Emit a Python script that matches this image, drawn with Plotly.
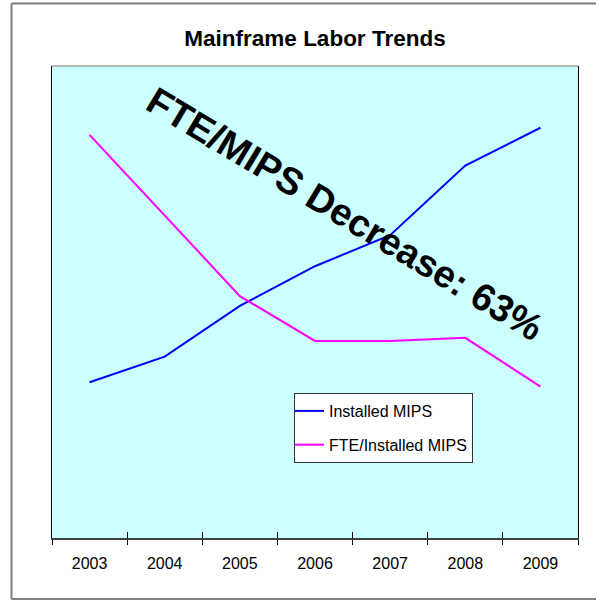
import plotly.graph_objects as go

years = ["2003", "2004", "2005", "2006", "2007", "2008", "2009"]
installed_mips = [39.6, 46.1, 59.0, 69.1, 77.0, 94.7, 104.3]
fte_per_mips = [102.5, 82.0, 61.5, 50.1, 50.1, 50.9, 38.5]
title_text = "Mainframe Labor Trends"
callout_text = "FTE/MIPS Decrease: 63%"

FONT = "Liberation Sans, Arial, sans-serif"

W, H = 606, 601
L, R, T, B = 52, 28, 66, 63
pw = W - L - R
ph = H - T - B

def px_x(x):
    return (x - L) / pw

def px_y(y):
    return (H - B - y) / ph

fig = go.Figure()
fig.add_trace(go.Scatter(x=years, y=installed_mips, mode="lines", name="Installed MIPS",
                         line=dict(color="#0000FF", width=2), legendgroup="a"))
fig.add_trace(go.Scatter(x=years, y=fte_per_mips, mode="lines", name="FTE/Installed MIPS",
                         line=dict(color="#FF00FF", width=2), legendgroup="b"))
# helper (invisible) trace for the inner half of the crossing tick marks
fig.add_trace(go.Scatter(x=years, y=installed_mips, mode="lines", xaxis="x2",
                         line=dict(width=0), opacity=0, showlegend=False, hoverinfo="skip"))

fig.update_layout(
    width=W, height=H,
    margin=dict(l=L, r=R, t=T, b=B),
    paper_bgcolor="white",
    plot_bgcolor="#CCFFFF",
    font=dict(family=FONT, color="black"),
    title=dict(text="<b>" + title_text + "</b>", x=0.5, xref="paper", xanchor="center",
               y=1 - 38 / H, yref="container", yanchor="middle",
               font=dict(family=FONT, size=22.5, color="black")),
    xaxis=dict(type="category", range=[-0.5, 6.5], showgrid=False, zeroline=False,
               showline=True, linecolor="#404040", linewidth=2,
               ticks="outside", ticklen=5, tickwidth=1, tickcolor="black",
               tickson="boundaries", tickfont=dict(family=FONT, size=16, color="black"),
               ticklabelstandoff=10),
    xaxis2=dict(type="category", range=[-0.5, 6.5], overlaying="x", anchor="y", side="bottom",
                showgrid=False, zeroline=False, showline=False, showticklabels=False,
                ticks="inside", ticklen=6, tickwidth=1, tickcolor="black",
                tickson="boundaries"),
    yaxis=dict(range=[0, 120], showgrid=False, zeroline=False, showticklabels=False,
               showline=True, linecolor="black", linewidth=1, mirror=True, ticks=""),
    showlegend=True,
    legend=dict(x=px_x(294), y=px_y(393), xanchor="left", yanchor="top",
                bgcolor="white", bordercolor="#333333", borderwidth=1,
                font=dict(family=FONT, size=16, color="black"),
                tracegroupgap=10, indentation=-6),
)

# top border of plot area (gray)
fig.add_shape(type="line", xref="paper", yref="paper", x0=0, x1=1, y0=1, y1=1,
              line=dict(color="#A0A0A0", width=1.5))
# outer chart border: left, top and bottom sides (right side is off the page)
border = dict(color="#7F7F7F", width=2)
fig.add_shape(type="line", xref="paper", yref="paper",
              x0=px_x(11.5), x1=px_x(11.5), y0=px_y(599), y1=px_y(3.5), line=border)
fig.add_shape(type="line", xref="paper", yref="paper",
              x0=px_x(11.5), x1=px_x(596), y0=px_y(3.5), y1=px_y(3.5), line=border)
fig.add_shape(type="line", xref="paper", yref="paper",
              x0=px_x(11.5), x1=px_x(596), y0=px_y(599), y1=px_y(599), line=border)

fig.add_annotation(text="<b>" + callout_text + "</b>", xref="paper", yref="paper",
                   x=px_x(345), y=px_y(214), xanchor="center", yanchor="middle",
                   showarrow=False, textangle=31,
                   font=dict(family=FONT, size=38, color="black"))

fig.write_html("out.html")
